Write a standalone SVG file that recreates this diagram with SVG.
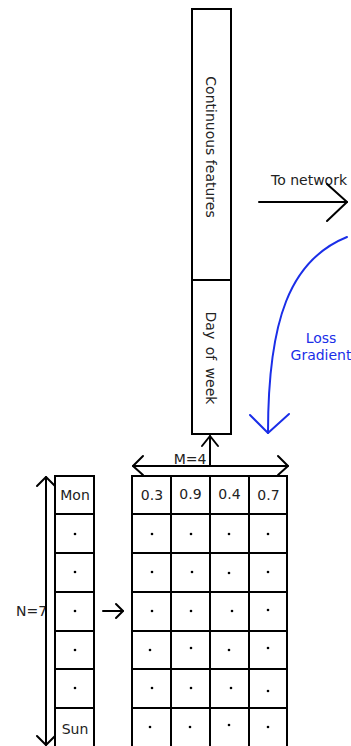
<svg xmlns="http://www.w3.org/2000/svg" width="351" height="746" viewBox="0 0 351 746">
<style>
  .box{fill:#fff;stroke:#000;stroke-width:2}
  .ln{fill:none;stroke:#000;stroke-width:2;stroke-linecap:round;stroke-linejoin:round}
  .bl{fill:none;stroke:#1a2ee8;stroke-width:2;stroke-linecap:round;stroke-linejoin:round}
  text{font-family:"DejaVu Sans","Liberation Sans",sans-serif;font-size:14px;fill:#222}
  .c{text-anchor:middle}
  .blue{fill:#1a2ee8;font-size:14px}
  .dot{fill:#000}
</style>
<rect width="351" height="746" fill="#fff"/>

<g id="feature-vector">
  <rect class="box" x="192" y="9" width="39" height="425"/>
  <line class="ln" x1="192" y1="280" x2="231" y2="280"/>
  <text class="c" transform="translate(206,147) rotate(90)" font-size="14.5">Continuous features</text>
  <text class="c" transform="translate(206,358) rotate(90)" font-size="14" word-spacing="3">Day of week</text>
</g>

<g id="to-network-label"><text x="271" y="185" font-size="15">To network</text></g>
<g id="loss-gradient-label">
  <text class="c blue" x="321" y="343">Loss</text>
  <text class="c blue" x="321" y="360">Gradient</text>
</g>

<g id="days-column">
  <rect class="box" x="55" y="476" width="39" height="271"/>
  <g class="ln">
    <line x1="55" y1="514" x2="94" y2="514"/><line x1="55" y1="553" x2="94" y2="553"/>
    <line x1="55" y1="592" x2="94" y2="592"/><line x1="55" y1="631" x2="94" y2="631"/>
    <line x1="55" y1="669" x2="94" y2="669"/><line x1="55" y1="708" x2="94" y2="708"/>
  </g>
  <text class="c" x="75" y="500">Mon</text>
  <text class="c" x="75" y="734">Sun</text>
  <circle class="dot" cx="75" cy="534" r="1.3"/><circle class="dot" cx="75" cy="572" r="1.3"/>
  <circle class="dot" cx="75" cy="611" r="1.3"/><circle class="dot" cx="75" cy="650" r="1.3"/>
  <circle class="dot" cx="75" cy="688" r="1.3"/>
</g>

<g id="embedding-matrix">
  <rect class="box" x="132" y="476" width="155" height="271"/>
  <g class="ln">
    <line x1="171" y1="476" x2="171" y2="747"/><line x1="210" y1="476" x2="210" y2="747"/><line x1="249" y1="476" x2="249" y2="747"/>
    <line x1="132" y1="514" x2="287" y2="514"/><line x1="132" y1="553" x2="287" y2="553"/>
    <line x1="132" y1="592" x2="287" y2="592"/><line x1="132" y1="631" x2="287" y2="631"/>
    <line x1="132" y1="669" x2="287" y2="669"/><line x1="132" y1="708" x2="287" y2="708"/>
  </g>
  <text class="c" x="152" y="500">0.3</text>
  <text class="c" x="190.5" y="499">0.9</text>
  <text class="c" x="229.5" y="499">0.4</text>
  <text class="c" x="268.5" y="500">0.7</text>
  <g class="dot">
    <circle cx="152" cy="534" r="1.3"/><circle cx="191" cy="534" r="1.3"/><circle cx="229" cy="534" r="1.3"/><circle cx="268" cy="534" r="1.3"/>
    <circle cx="152" cy="572" r="1.3"/><circle cx="192" cy="572" r="1.3"/><circle cx="229" cy="573" r="1.3"/><circle cx="268" cy="572" r="1.3"/>
    <circle cx="152" cy="611" r="1.3"/><circle cx="191" cy="611" r="1.3"/><circle cx="232" cy="611" r="1.3"/><circle cx="268" cy="610" r="1.3"/>
    <circle cx="150" cy="650" r="1.3"/><circle cx="191" cy="648" r="1.3"/><circle cx="229" cy="650" r="1.3"/><circle cx="268" cy="648" r="1.3"/>
    <circle cx="152" cy="688" r="1.3"/><circle cx="191" cy="688" r="1.3"/><circle cx="231" cy="688" r="1.3"/><circle cx="268" cy="691" r="1.3"/>
    <circle cx="150" cy="727" r="1.3"/><circle cx="190" cy="727" r="1.3"/><circle cx="229" cy="725" r="1.3"/><circle cx="268" cy="727" r="1.3"/>
  </g>
</g>

<g id="dimension-labels">
  <text class="c" x="190" y="464" font-size="15">M=4</text>
  <text x="16" y="616">N=7</text>
</g>

<g id="connectors">
  <line class="ln" x1="259" y1="202" x2="347" y2="202"/>
  <polyline class="ln" points="327,184 347,202 327,221"/>
  <path class="bl" d="M347,237 C290,260 268,320 268,433"/>
  <polyline class="bl" points="250,415 268,433 289,414"/>
  <line class="ln" x1="210" y1="466" x2="210" y2="436"/>
  <polyline class="ln" points="202,446 210,436 218,446"/>
  <line class="ln" x1="133" y1="466" x2="288" y2="466"/>
  <polyline class="ln" points="143,456 133,466 143,475"/>
  <polyline class="ln" points="278,456 288,466 278,475"/>
  <line class="ln" x1="46" y1="477" x2="46" y2="745"/>
  <polyline class="ln" points="37,486 46,477 55,486"/>
  <polyline class="ln" points="37,736 46,745 55,736"/>
  <line class="ln" x1="103" y1="611" x2="123" y2="611"/>
  <polyline class="ln" points="116,604 123,611 116,618"/>
</g>
</svg>
